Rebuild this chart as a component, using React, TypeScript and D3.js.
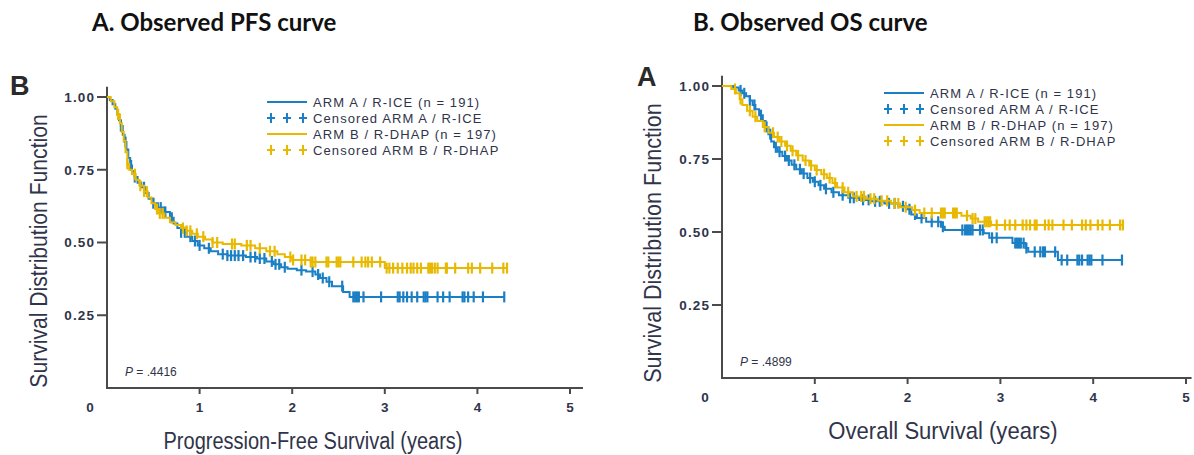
import React from "react";
import * as d3 from "d3";

type Step = [number, number];

// Progression-free survival, ARM A / R-ICE: [time in years, survival after the event]
const pfsArmA: Step[] = [
  [0, 1], [0.03, 0.99], [0.06, 0.975], [0.09, 0.96], [0.11, 0.94], [0.13, 0.92], [0.15, 0.9],
  [0.17, 0.87], [0.19, 0.845], [0.21, 0.82], [0.23, 0.79], [0.25, 0.765], [0.27, 0.745],
  [0.3, 0.725], [0.33, 0.705], [0.37, 0.69], [0.41, 0.67], [0.45, 0.65], [0.5, 0.635],
  [0.55, 0.62], [0.62, 0.605], [0.68, 0.585], [0.72, 0.565], [0.76, 0.55], [0.8, 0.535],
  [0.86, 0.52], [0.92, 0.505], [0.98, 0.49], [1.05, 0.48], [1.12, 0.47], [1.2, 0.46],
  [1.3, 0.455], [1.5, 0.45], [1.62, 0.445], [1.72, 0.435], [1.8, 0.425], [1.88, 0.415],
  [1.95, 0.41], [2.05, 0.405], [2.15, 0.4], [2.25, 0.39], [2.3, 0.378], [2.37, 0.365],
  [2.43, 0.35], [2.55, 0.33], [2.62, 0.313],
];
const pfsArmACensored: number[] = [
  0.15, 0.2, 0.26, 0.3, 0.4, 0.5, 0.58, 0.63, 0.7, 0.8, 0.84, 0.9, 0.95, 1.0, 1.1, 1.25, 1.3,
  1.34, 1.38, 1.42, 1.47, 1.55, 1.6, 1.65, 1.7, 1.78, 1.82, 1.86, 1.92, 2.1, 2.22, 2.28, 2.33,
  2.4, 2.54, 2.66, 2.68, 2.7, 2.72, 2.77, 2.96, 3.14, 3.16, 3.2, 3.24, 3.29, 3.35, 3.42, 3.44,
  3.46, 3.57, 3.63, 3.7, 3.84, 3.86, 3.9, 3.96, 4.06, 4.29,
];

// Progression-free survival, ARM B / R-DHAP
const pfsArmB: Step[] = [
  [0, 1], [0.04, 0.985], [0.08, 0.965], [0.11, 0.94], [0.14, 0.91], [0.16, 0.88], [0.18, 0.85],
  [0.2, 0.81], [0.22, 0.77], [0.24, 0.75], [0.27, 0.735], [0.31, 0.715], [0.35, 0.695],
  [0.4, 0.675], [0.44, 0.655], [0.48, 0.635], [0.52, 0.615], [0.56, 0.6], [0.62, 0.585],
  [0.68, 0.57], [0.74, 0.56], [0.8, 0.55], [0.86, 0.54], [0.92, 0.53], [0.98, 0.52],
  [1.06, 0.51], [1.14, 0.5], [1.25, 0.495], [1.45, 0.49], [1.6, 0.48], [1.72, 0.47],
  [1.84, 0.46], [1.92, 0.45], [2.0, 0.44], [2.2, 0.433], [3.0, 0.412],
];
const pfsArmBCensored: number[] = [
  0.12, 0.22, 0.3, 0.36, 0.4, 0.43, 0.54, 0.57, 0.6, 0.82, 0.86, 0.9, 0.97, 1.04, 1.14, 1.19,
  1.35, 1.38, 1.51, 1.55, 1.65, 1.76, 1.81, 1.98, 2.01, 2.1, 2.14, 2.2, 2.22, 2.25, 2.37, 2.39,
  2.48, 2.5, 2.52, 2.66, 2.75, 2.79, 2.82, 2.86, 2.95, 3.02, 3.05, 3.09, 3.14, 3.19, 3.24, 3.28,
  3.31, 3.35, 3.39, 3.47, 3.49, 3.51, 3.54, 3.57, 3.66, 3.67, 3.76, 3.9, 3.94, 4.03, 4.16, 4.28,
  4.32,
];

// Overall survival, ARM A / R-ICE
const osArmA: Step[] = [
  [0, 1], [0.12, 0.995], [0.18, 0.985], [0.22, 0.975], [0.26, 0.965], [0.3, 0.95], [0.33, 0.935],
  [0.36, 0.92], [0.4, 0.9], [0.44, 0.88], [0.47, 0.86], [0.5, 0.835], [0.53, 0.81], [0.56, 0.79],
  [0.6, 0.775], [0.65, 0.76], [0.7, 0.745], [0.75, 0.73], [0.8, 0.715], [0.86, 0.7], [0.92, 0.685],
  [0.98, 0.672], [1.04, 0.66], [1.1, 0.648], [1.18, 0.636], [1.26, 0.626], [1.36, 0.617],
  [1.48, 0.61], [1.6, 0.605], [1.75, 0.598], [1.9, 0.588], [1.99, 0.578], [2.04, 0.56],
  [2.1, 0.548], [2.2, 0.535], [2.36, 0.518], [2.4, 0.507], [2.82, 0.496], [2.88, 0.48],
  [3.13, 0.462], [3.27, 0.445], [3.3, 0.432], [3.62, 0.404],
];
const osArmACensored: number[] = [
  0.2, 0.24, 0.3, 0.35, 0.42, 0.48, 0.52, 0.58, 0.62, 0.68, 0.72, 0.78, 0.84, 0.88, 0.95, 1.0,
  1.06, 1.12, 1.2, 1.3, 1.38, 1.42, 1.52, 1.58, 1.65, 1.7, 1.8, 1.86, 1.95, 2.02, 2.08, 2.15,
  2.26, 2.33, 2.38, 2.59, 2.62, 2.64, 2.66, 2.68, 2.7, 2.78, 2.81, 2.91, 2.96, 3.16, 3.18, 3.2,
  3.22, 3.25, 3.28, 3.37, 3.43, 3.46, 3.48, 3.59, 3.66, 3.72, 3.83, 3.85, 3.88, 3.94, 3.96,
  3.98, 4.1, 4.31,
];

// Overall survival, ARM B / R-DHAP
const osArmB: Step[] = [
  [0, 1], [0.1, 0.99], [0.15, 0.975], [0.19, 0.955], [0.22, 0.935], [0.27, 0.915], [0.33, 0.895],
  [0.38, 0.88], [0.44, 0.86], [0.5, 0.84], [0.56, 0.825], [0.62, 0.81], [0.68, 0.795],
  [0.74, 0.778], [0.8, 0.762], [0.87, 0.745], [0.94, 0.728], [1.0, 0.712], [1.07, 0.698],
  [1.13, 0.685], [1.19, 0.668], [1.24, 0.652], [1.32, 0.636], [1.41, 0.622], [1.55, 0.614],
  [1.68, 0.607], [1.82, 0.598], [1.92, 0.585], [2.05, 0.575], [2.13, 0.565], [2.58, 0.556],
  [2.68, 0.546], [2.76, 0.535], [2.9, 0.524],
];
const osArmBCensored: number[] = [
  0.14, 0.2, 0.3, 0.36, 0.46, 0.55, 0.6, 0.64, 0.7, 0.76, 0.82, 0.9, 0.96, 1.02, 1.1, 1.16,
  1.22, 1.3, 1.36, 1.45, 1.5, 1.53, 1.6, 1.64, 1.72, 1.78, 1.86, 1.9, 1.98, 2.08, 2.18, 2.26,
  2.36, 2.38, 2.4, 2.49, 2.51, 2.53, 2.64, 2.7, 2.73, 2.83, 2.85, 2.87, 2.89, 2.96, 3.05, 3.1,
  3.16, 3.24, 3.28, 3.32, 3.37, 3.39, 3.48, 3.52, 3.56, 3.68, 3.77, 3.88, 3.92, 3.97, 4.05,
  4.1, 4.18, 4.29, 4.32,
];

const yTicks: number[] = [0.25, 0.5, 0.75, 1.0];
const xTicks: number[] = [1, 2, 3, 4, 5];
const legendLabels: string[] = [
  "ARM A / R-ICE (n = 191)",
  "Censored ARM A / R-ICE",
  "ARM B / R-DHAP (n = 197)",
  "Censored ARM B / R-DHAP",
];

const BLUE = "#1b7fc4";
const GOLD = "#e8b900";
const INK = "#30344a";
const AXIS = "#4a4a4a";
const SANS = '"Liberation Sans", Arial, sans-serif';

interface PanelProps {
  heading: string;
  headingX: number;
  letter: string;
  letterX: number;
  letterY: number;
  left: number;
  right: number;
  base: number;
  top: number;
  axisEnd: number;
  yTitleX: number;
  yTitleY: number;
  yTitleSize: number;
  yTitleSqueeze: number;
  xTitle: string;
  xTitleX: number;
  xTitleSize: number;
  xTitleSqueeze: number;
  pValue: string;
  armA: Step[];
  armACens: number[];
  armB: Step[];
  armBCens: number[];
  legendX: number;
  legendY: number;
}

function survivalAt(steps: Step[], t: number): number {
  const i = d3.bisector((d: Step) => d[0]).right(steps, t) - 1;
  return steps[Math.max(0, i)][1];
}

function Panel(p: PanelProps) {
  const x = d3.scaleLinear().domain([0, 5]).range([p.left, p.right]);
  const y = d3.scaleLinear().domain([0, 1]).range([p.base, p.top]);
  const line = d3
    .line<Step>()
    .x((d) => x(d[0]))
    .y((d) => y(d[1]))
    .curve(d3.curveStepAfter);

  const series = [
    { steps: p.armA, cens: p.armACens, color: BLUE },
    { steps: p.armB, cens: p.armBCens, color: GOLD },
  ];

  return (
    <g>
      <text x={p.headingX} y={31} fontFamily='Lato, "Open Sans", sans-serif' fontWeight={700}
        fontSize={24} fill="#111">{p.heading}</text>
      <text x={p.letterX} y={p.letterY} fontFamily={SANS} fontWeight={700} fontSize={27}
        fill="#2a2a2a">{p.letter}</text>

      {/* axes */}
      <line x1={p.left} x2={p.left} y1={p.base + 1} y2={y(1.035)} stroke={AXIS} strokeWidth={2} />
      <line x1={p.left - 1} x2={x(p.axisEnd)} y1={p.base} y2={p.base} stroke={AXIS} strokeWidth={2} />
      {yTicks.map((v) => (
        <g key={"y" + v}>
          <line x1={p.left - 10} x2={p.left} y1={y(v)} y2={y(v)} stroke={AXIS} strokeWidth={2} />
          <text x={p.left - 12} y={y(v)} dy="0.36em" textAnchor="end" fontFamily={SANS}
            fontWeight={700} fontSize={13.5} letterSpacing={1.1} fill={INK}>{d3.format(".2f")(v)}</text>
        </g>
      ))}
      {xTicks.map((v) => (
        <g key={"x" + v}>
          <line x1={x(v)} x2={x(v)} y1={p.base} y2={p.base + 6} stroke={AXIS} strokeWidth={2} />
          <text x={x(v)} y={p.base + 24} textAnchor="middle" fontFamily={SANS} fontWeight={700}
            fontSize={13.5} fill={INK}>{v}</text>
        </g>
      ))}
      <text x={x(0) - 17} y={p.base + 24} textAnchor="middle" fontFamily={SANS} fontWeight={700}
        fontSize={13.5} fill={INK}>0</text>

      {/* axis titles, set in a squeezed face to read as condensed type */}
      <text transform={`translate(${p.yTitleX},${p.yTitleY}) rotate(-90) scale(${p.yTitleSqueeze},1)`}
        textAnchor="middle" dy="0.36em" fontFamily={SANS} fontSize={p.yTitleSize} fill={INK}>
        Survival Distribution Function
      </text>
      <text transform={`translate(${p.xTitleX},${p.base + 61}) scale(${p.xTitleSqueeze},1)`} textAnchor="middle"
        fontFamily={SANS} fontSize={p.xTitleSize} fill={INK}>{p.xTitle}</text>

      <text x={p.left + 18} y={p.base - 12} fontFamily={SANS} fontSize={12} fill={INK}>
        <tspan fontStyle="italic">P</tspan> = {p.pValue}
      </text>

      {/* survival curves with censor marks */}
      {series.map((s, i) => {
        const lastT = d3.max(s.cens) ?? 0;
        const pts: Step[] = [...s.steps, [lastT, s.steps[s.steps.length - 1][1]]];
        return (
          <g key={"s" + i}>
            <path d={line(pts) ?? ""} fill="none" stroke={s.color} strokeWidth={2} />
            {s.cens.map((t, j) => (
              <line key={j} x1={x(t)} x2={x(t)} y1={y(survivalAt(s.steps, t)) - 5.5}
                y2={y(survivalAt(s.steps, t)) + 5.5} stroke={s.color} strokeWidth={2.2} />
            ))}
          </g>
        );
      })}

      {/* legend */}
      {legendLabels.map((lab, i) => {
        const ly = p.legendY + i * 16;
        const color = i < 2 ? BLUE : GOLD;
        const censored = i % 2 === 1;
        return (
          <g key={"l" + i}>
            {censored ? (
              [4, 20, 36].map((dx) => (
                <g key={dx}>
                  <line x1={p.legendX + dx - 4} x2={p.legendX + dx + 4} y1={ly} y2={ly} stroke={color} strokeWidth={2} />
                  <line x1={p.legendX + dx} x2={p.legendX + dx} y1={ly - 5} y2={ly + 5} stroke={color} strokeWidth={2} />
                </g>
              ))
            ) : (
              <line x1={p.legendX} x2={p.legendX + 40} y1={ly} y2={ly} stroke={color} strokeWidth={2} />
            )}
            <text x={p.legendX + 46} y={ly} dy="0.36em" fontFamily={SANS} fontSize={13}
              letterSpacing={1.1} fill={INK}>{lab}</text>
          </g>
        );
      })}
    </g>
  );
}

export default function App() {
  return (
    <svg width={1194} height={455} style={{ position: "absolute", left: 0, top: 0, background: "#fff" }}>
      <rect width={1194} height={455} fill="#fff" />
      <Panel heading="A. Observed PFS curve" headingX={92} letter="B" letterX={10} letterY={95}
        left={107} right={570} base={388} top={97} axisEnd={5.14}
        yTitleX={38} yTitleY={251} yTitleSize={24} yTitleSqueeze={0.88}
        xTitle="Progression-Free Survival (years)" xTitleX={313} xTitleSize={23} xTitleSqueeze={0.87}
        pValue=".4416"
        armA={pfsArmA} armACens={pfsArmACensored} armB={pfsArmB} armBCens={pfsArmBCensored}
        legendX={267} legendY={102} />
      <Panel heading="B. Observed OS curve" headingX={693} letter="A" letterX={637} letterY={86}
        left={722} right={1186} base={378} top={86} axisEnd={5.06}
        yTitleX={652} yTitleY={243} yTitleSize={24} yTitleSqueeze={0.9}
        xTitle="Overall Survival (years)" xTitleX={943} xTitleSize={24} xTitleSqueeze={0.92}
        pValue=".4899"
        armA={osArmA} armACens={osArmACensored} armB={osArmB} armBCens={osArmBCensored}
        legendX={884} legendY={93} />
    </svg>
  );
}
